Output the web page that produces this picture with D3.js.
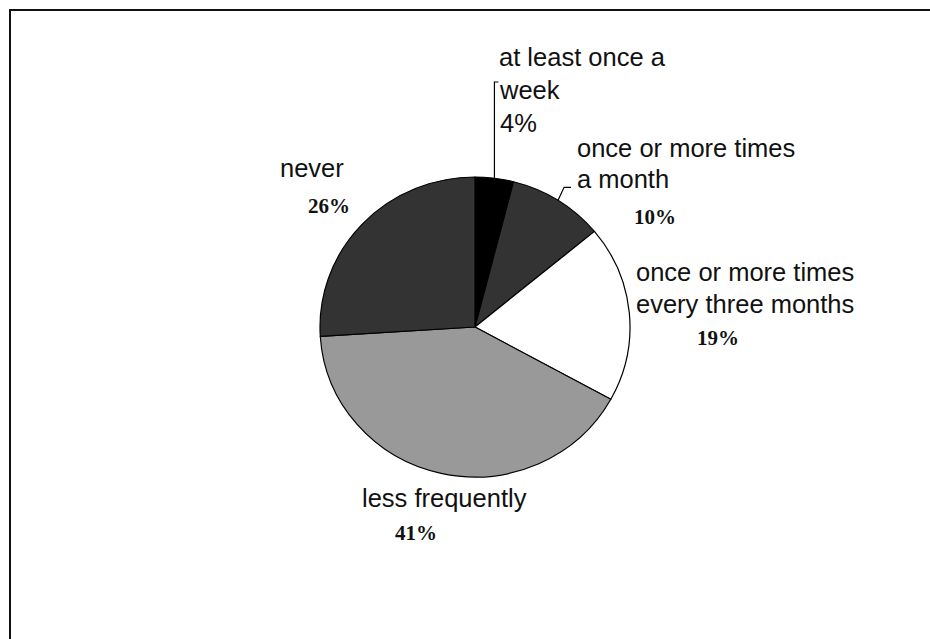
<!DOCTYPE html>
<html>
<head>
<meta charset="utf-8">
<script src="https://cdn.jsdelivr.net/npm/d3@7/dist/d3.min.js"></script>
<style>
  html, body { margin: 0; padding: 0; background: #fff; overflow: hidden; }
  svg { display: block; }
</style>
</head>
<body>
<svg id="chart" width="930" height="639"></svg>
<script>
// Survey answer categories, in clockwise order from 12 o'clock
const categories = [
  "at least once a week",
  "once or more times a month",
  "once or more times every three months",
  "less frequently",
  "never"
];
// Share of respondents (%)
const values = [4, 10, 19, 41, 26];

// Label text as it is wrapped on the chart
const labelLines = [
  ["at least once a", "week"],
  ["once or more times", "a month"],
  ["once or more times", "every three months"],
  ["less frequently"],
  ["never"]
];

// Slice fills
const fills = ["#000000", "#333333", "#ffffff", "#999999", "#333333"];

// Label layout (left edge of text, first baseline, percent placement)
const layout = [
  { x: 499, y: 66, dy: 33, pctInline: true, leader: "up" },
  { x: 577, y: 157, dy: 31, px: 634, py: 224, leader: "hook" },
  { x: 636, y: 281, dy: 32, px: 697, py: 345 },
  { x: 362, y: 507, dy: 0, px: 395, py: 540 },
  { x: 280, y: 177, dy: 0, px: 308, py: 213 }
];

const svg = d3.select("#chart");
const W = 930, H = 639;

// Frame: top and left edges only, the rest runs off the page
svg.append("path")
  .attr("d", d3.line()([[10, H], [10, 10], [W, 10]]))
  .attr("fill", "none")
  .attr("stroke", "#111")
  .attr("stroke-width", 2);

const cx = 475, cy = 327, rx = 155, ry = 150;
const r = ry;

const pie = d3.pie().sort(null).value(d => d)
  .startAngle(0).endAngle(2 * Math.PI);
const arcs = pie(values);
const arc = d3.arc().innerRadius(0).outerRadius(r);

const g = svg.append("g")
  .attr("transform", `translate(${cx},${cy}) scale(${rx / ry},1)`);

g.selectAll("path.slice")
  .data(arcs)
  .join("path")
  .attr("class", "slice")
  .attr("d", arc)
  .attr("fill", (d, i) => fills[i])
  .attr("stroke", "#000")
  .attr("stroke-width", 1.2)
  .attr("vector-effect", "non-scaling-stroke")
  .attr("stroke-linejoin", "round");

const total = d3.sum(values);
const pct = v => d3.format(".0f")(v / total * 100) + "%";

// Point on the pie rim at the middle of a slice
function rimPoint(d) {
  const a = (d.startAngle + d.endAngle) / 2;
  return [cx + rx * Math.sin(a), cy - ry * Math.cos(a)];
}

const sansFont = "'Liberation Sans', Arial, sans-serif";
const serifFont = "'Liberation Serif', 'Times New Roman', serif";

arcs.forEach((d, i) => {
  const L = layout[i];
  const lines = labelLines[i].slice();
  if (L.pctInline) lines.push(pct(values[i]));

  const t = svg.append("text")
    .attr("font-family", sansFont)
    .attr("font-size", 25.5)
    .attr("fill", "#111");
  lines.forEach((s, k) => {
    t.append("tspan")
      .attr("x", L.x + (k > 0 && i === 0 ? 1 : 0))
      .attr("y", L.y + k * (L.dy || 0))
      .text(s);
  });

  if (!L.pctInline) {
    svg.append("text")
      .attr("x", L.px).attr("y", L.py)
      .attr("font-family", serifFont)
      .attr("font-weight", "bold")
      .attr("font-size", 21)
      .attr("fill", "#111")
      .text(pct(values[i]));
  }

  // Leader lines
  const [ex, ey] = rimPoint(d);
  if (L.leader === "up") {
    svg.append("path")
      .attr("d", d3.line()([[ex, ey], [ex, L.y + 16], [ex + 4, L.y + 16]]))
      .attr("fill", "none").attr("stroke", "#000").attr("stroke-width", 1.2);
  } else if (L.leader === "hook") {
    svg.append("path")
      .attr("d", d3.line()([[ex, ey], [ex + 6, ey - 13], [ex + 13, ey - 13]]))
      .attr("fill", "none").attr("stroke", "#000").attr("stroke-width", 1.2);
  }
});
</script>
</body>
</html>
